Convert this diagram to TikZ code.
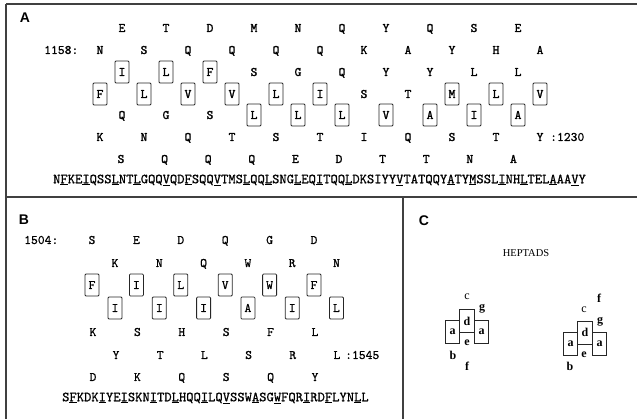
\documentclass[tikz,border=0pt]{standalone}
\usepackage{fontspec}
\newfontfamily\panelfont{Liberation Sans}
\newfontfamily\serifC{Liberation Serif}
\newfontfamily\twbold{lmmono10-regular}[Extension=.otf, FakeBold=1.6]
\newfontfamily\twmed{lmmono10-regular}[Extension=.otf, FakeBold=0.8]
\newcommand{\uu}[1]{\underline{#1}}
\tikzset{
  res/.style={font=\fontsize{13}{13}\selectfont\twbold, inner sep=0pt, text height=8pt, text depth=0pt, anchor=center},
  resB/.style={font=\fontsize{13}{13}\selectfont\twmed, inner sep=0pt, text height=8pt, text depth=0pt, anchor=center},
  resbox/.style={res, draw=black!85, line width=0.9pt, rounded corners=1pt, minimum width=14pt, minimum height=22pt},
  resboxB/.style={resB, draw=black!85, line width=0.8pt, rounded corners=1pt, minimum width=14pt, minimum height=22pt},
  seqtext/.style={font=\fontsize{13.9}{14}\selectfont\twmed, inner sep=0pt, anchor=west},
  numlabel/.style={font=\fontsize{13}{13}\selectfont\twmed, inner sep=0pt, text height=8pt, text depth=0pt, anchor=west},
  panellabel/.style={font=\fontsize{14}{14}\selectfont\panelfont\bfseries, inner sep=0pt, anchor=center},
  frame/.style={draw=black!75, line width=1.1pt},
  hbox/.style={draw=black!85, line width=0.9pt, minimum width=14.5pt, minimum height=23pt, inner sep=0pt, font=\fontsize{12}{12}\selectfont\serifC\bfseries},
  hlet/.style={inner sep=0pt, font=\fontsize{12}{12}\selectfont\serifC\bfseries},
}
\begin{document}
\begin{tikzpicture}[x=1pt,y=-1pt]
\useasboundingbox (0,0) rectangle (637,419);
% frame
\coordinate (TL) at (6,4);
\coordinate (TR) at (637,4);
\coordinate (BL) at (6,419);
\coordinate (ML) at (6,197);
\coordinate (MR) at (637,197);
\coordinate (VT) at (403,197);
\coordinate (VB) at (403,419);
\draw[frame] (TL) -- (TR);
\draw[frame] (TL) -- (BL);
\draw[frame] (ML) -- (MR);
\draw[frame] (VT) -- (VB);
% panel labels
\node[panellabel] (labA) at (25,18) {A};
\node[panellabel] (labB) at (24,220) {B};
\node[panellabel] (labC) at (424,221) {C};
% ===== Panel A =====
\node[numlabel] (A-start) at (44,50) {1158:};
\foreach \l [count=\k from 0] in {E,T,D,M,N,Q,Y,Q,S,E}
  \node[res] (A1-\k) at (122+44*\k,28) {\l};
\foreach \l [count=\k from 0] in {N,S,Q,Q,Q,Q,K,A,Y,H,A}
  \node[res] (A2-\k) at (100+44*\k,50) {\l};
\foreach \l/\b [count=\k from 0] in {I/1,L/1,F/1,S/0,G/0,Q/0,Y/0,Y/0,L/0,L/0}
  {\ifnum\b=1 \node[resbox] (A3-\k) at (122+44*\k,72) {\l};
   \else \node[res] (A3-\k) at (122+44*\k,72) {\l}; \fi}
\foreach \l/\b [count=\k from 0] in {F/1,L/1,V/1,V/1,L/1,I/1,S/0,T/0,M/1,L/1,V/1}
  {\ifnum\b=1 \node[resbox] (A4-\k) at (100+44*\k,94) {\l};
   \else \node[res] (A4-\k) at (100+44*\k,94) {\l}; \fi}
\foreach \l/\b [count=\k from 0] in {Q/0,G/0,S/0,L/1,L/1,L/1,V/1,A/1,I/1,A/1}
  {\ifnum\b=1 \node[resbox] (A5-\k) at (122+44*\k,115) {\l};
   \else \node[res] (A5-\k) at (122+44*\k,115) {\l}; \fi}
\foreach \l [count=\k from 0] in {K,N,Q,T,S,T,I,Q,S,T,Y}
  \node[res] (A6-\k) at (100+44*\k,137) {\l};
\node[numlabel] (A-end) at (550,137) {:1230};
\foreach \l [count=\k from 0] in {S,Q,Q,Q,E,D,T,T,N,A}
  \node[res] (A7-\k) at (121+43.6*\k,159) {\l};
\node[seqtext] (A-seq) at (53,180) {N\uu{F}KE\uu{I}QSS\uu{L}NT\uu{L}GQQ\uu{V}QD\uu{F}SQQ\uu{V}TMS\uu{L}QQ\uu{L}SNG\uu{L}EQ\uu{I}TQQ\uu{L}DKSIYY\uu{V}TATQQY\uu{A}TY\uu{M}SSL\uu{I}NH\uu{L}TEL\uu{A}AA\uu{V}Y};
% ===== Panel B =====
\node[numlabel] (B-start) at (24,240) {1504:};
\foreach \l [count=\k from 0] in {S,E,D,Q,G,D}
  \node[resB] (B1-\k) at (92+44.4*\k,240) {\l};
\foreach \l [count=\k from 0] in {K,N,Q,W,R,N}
  \node[resB] (B2-\k) at (115+44.3*\k,263) {\l};
\foreach \l [count=\k from 0] in {F,I,L,V,W,F}
  \node[resboxB] (B3-\k) at (92+44.4*\k,285) {\l};
\foreach \l [count=\k from 0] in {I,I,I,A,I,L}
  \node[resboxB] (B4-\k) at (115+44.3*\k,308) {\l};
\foreach \l [count=\k from 0] in {K,S,H,S,F,L}
  \node[resB] (B5-\k) at (93+44.4*\k,332) {\l};
\foreach \l [count=\k from 0] in {Y,T,L,S,R,L}
  \node[resB] (B6-\k) at (116+44.2*\k,355) {\l};
\node[numlabel] (B-end) at (345,355) {:1545};
\foreach \l [count=\k from 0] in {D,K,Q,S,Q,Y}
  \node[resB] (B7-\k) at (93+44.4*\k,377) {\l};
\node[seqtext] (B-seq) at (62,398) {S\uu{F}KDK\uu{I}YE\uu{I}SKN\uu{I}TD\uu{L}HQQ\uu{I}LQ\uu{V}SSW\uu{A}SG\uu{W}FQR\uu{I}RD\uu{F}LYN\uu{L}L};
% ===== Panel C =====
\node[inner sep=0pt, font=\fontsize{10.5}{10.5}\selectfont\serifC] (heptads) at (526,253) {HEPTADS};
% left heptad
\node[hbox] (L-a1) at (452.5,331.5) {a};
\node[hbox] (L-d) at (467,321) {d};
\node[hbox] (L-a2) at (481.5,331.5) {a};
\node[hlet, font=\fontsize{12}{12}\selectfont\serifC] (L-c) at (467,297) {c};
\node[hlet] (L-g) at (482,309) {g};
\node[hlet] (L-e) at (467,343) {e};
\node[hlet] (L-b) at (453,355) {b};
\node[hlet] (L-f) at (467,366) {f};
% right heptad
\node[hbox] (R-a1) at (570.5,343.5) {a};
\node[hbox] (R-d) at (585,332.5) {d};
\node[hbox] (R-a2) at (599.5,343.5) {a};
\node[hlet] (R-f) at (599,298) {f};
\node[hlet, font=\fontsize{12}{12}\selectfont\serifC] (R-c) at (584,310) {c};
\node[hlet] (R-g) at (600,322) {g};
\node[hlet] (R-e) at (584,355) {e};
\node[hlet] (R-b) at (570,366) {b};
\end{tikzpicture}
\end{document}
